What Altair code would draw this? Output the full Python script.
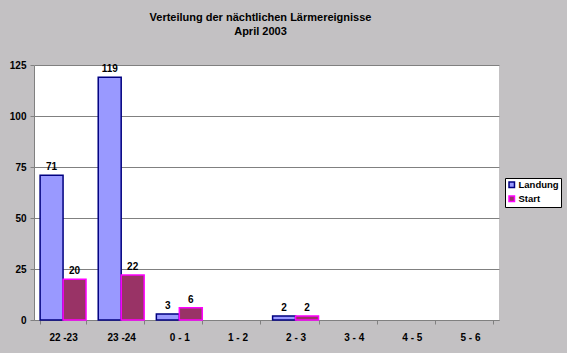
import altair as alt
import pandas as pd

categories = ["22 -23", "23 -24", "0 - 1", "1 - 2", "2 - 3", "3 - 4", "4 - 5", "5 - 6"]
landung = [71, 119, 3, 0, 2, 0, 0, 0]
start = [20, 22, 6, 0, 2, 0, 0, 0]
series = ["Landung", "Start"]

rows = []
for c, l, s in zip(categories, landung, start):
    rows.append({"cat": c, "serie": "Landung", "val": l})
    rows.append({"cat": c, "serie": "Start", "val": s})
df = pd.DataFrame(rows)

FONT = "Liberation Sans"
W = "bold"

x = alt.X("cat:N", sort=categories, title=None,
          scale=alt.Scale(domain=categories, paddingInner=0.21, paddingOuter=0.105),
          axis=alt.Axis(labelAngle=0, tickBand="extent", labelFont=FONT, labelFontSize=10,
                        labelFontWeight=W,
                        labelColor="black", domainColor="#808080", tickColor="#808080",
                        tickSize=4, labelPadding=8, grid=False))
xo = alt.XOffset("serie:N", sort=series, scale=alt.Scale(domain=series, paddingInner=0, paddingOuter=0))
y = alt.Y("val:Q", title=None,
          scale=alt.Scale(domain=[0, 125], nice=False),
          axis=alt.Axis(values=[0, 25, 50, 75, 100, 125], labelFont=FONT, labelFontSize=10,
                        labelFontWeight=W,
                        labelColor="black", domainColor="#808080", tickColor="#808080",
                        tickSize=4, labelPadding=4, gridColor="#808080", gridWidth=1))

base = alt.Chart(df).transform_filter("datum.val > 0")

bars = base.mark_bar(strokeWidth=1.5).encode(
    x=x, xOffset=xo, y=y,
    fill=alt.Fill("serie:N", sort=series,
                  scale=alt.Scale(domain=series, range=["#9999FF", "#993366"]),
                  legend=alt.Legend(title=None, orient="none", legendX=471, legendY=113,
                                    fillColor="white", strokeColor="black", padding=2,
                                    symbolType="square", symbolSize=30, symbolStrokeWidth=1.5,
                                    labelOffset=2,
                                    labelFont=FONT, labelFontSize=9.5, labelFontWeight=W,
                                    labelColor="black", rowPadding=2)),
    stroke=alt.Stroke("serie:N", sort=series,
                      scale=alt.Scale(domain=series, range=["#000080", "#FF00FF"]),
                      legend=None),
)

labels = base.mark_text(
    dy=-8, font=FONT, fontSize=10, fontWeight=W, color="black").encode(
    x=alt.X("cat:N", sort=categories), xOffset=alt.XOffset("serie:N", sort=series), y="val:Q",
    text="val:Q")

chart = alt.layer(bars, labels).properties(
    width=465, height=255,
    background="#C3C1C3",
    padding={"left": 34, "top": 65, "right": 68, "bottom": 33},
    autosize=alt.AutoSizeParams(type="none"),
    title=alt.Title(["Verteilung der nächtlichen Lärmereignisse", "April 2003"],
                    font=FONT, fontSize=11, fontWeight="bold", color="black",
                    anchor="middle", offset=23, lineHeight=14, dx=-6),
).configure_view(fill="white", stroke=None)

chart.save("out.html", embed_options={"renderer": "svg", "actions": False})
